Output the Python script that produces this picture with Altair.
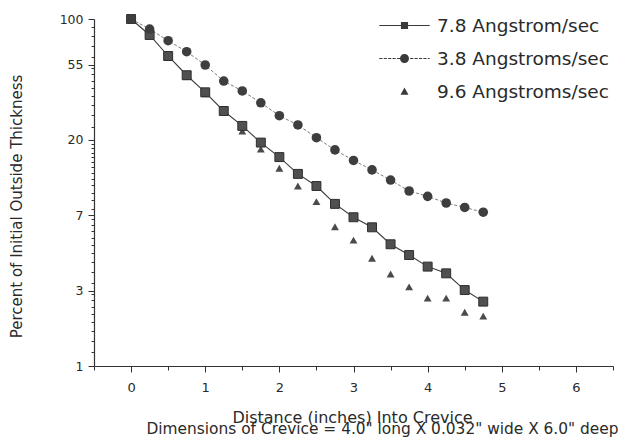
import math
import altair as alt
import pandas as pd

# ---------------- data ----------------
distance = [0, 0.25, 0.5, 0.75, 1.0, 1.25, 1.5, 1.75, 2.0, 2.25,
            2.5, 2.75, 3.0, 3.25, 3.5, 3.75, 4.0, 4.25, 4.5, 4.75]
pct_78 = [100, 80.9, 61.2, 47.4, 37.8, 29.5, 24.2, 19.4, 16.0, 12.8,
          10.9, 8.6, 7.2, 6.3, 5.03, 4.36, 3.74, 3.42, 2.74, 2.35]
pct_38 = [100, 87.5, 75.0, 64.8, 54.3, 43.9, 38.5, 32.9, 27.7, 24.5,
          20.7, 17.6, 15.3, 13.5, 11.8, 10.2, 9.5, 8.7, 8.2, 7.7]
pct_96 = [100, 80.0, 60.5, 46.5, 37.0, 29.0, 22.6, 17.8, 13.8, 10.9,
          8.85, 6.35, 5.32, 4.18, 3.39, 2.86, 2.46, 2.46, 2.04, 1.94]
series_names = ["7.8 Angstrom/sec", "3.8 Angstroms/sec", "9.6 Angstroms/sec"]

# axis ticks (natural-log spaced majors labelled 1, 3, 7, 20, 55, 100)
y_major = [1, math.e, math.e ** 2, math.e ** 3, math.e ** 4, 100]
y_minor = [1.2, 1.4, 1.6, 1.8, 2.0, 2.2, 2.4, 2.6,
           3, 3.5, 4, 4.5, 5, 5.5, 6, 6.5, 7,
           8, 9, 10, 11, 12, 13, 14, 15, 16, 17, 18, 19,
           24, 28, 32, 36, 40, 44, 48, 52,
           60, 70, 80, 90]
x_ticks = [-0.5, 0, 0.5, 1, 1.5, 2, 2.5, 3, 3.5, 4, 4.5, 5, 5.5, 6, 6.5]

x_title = "Distance (inches) Into Crevice"
y_title = "Percent of Initial Outside Thickness"
sub_title = 'Dimensions of Crevice = 4.0" long X 0.032" wide X 6.0" deep'

# ---------------- table ----------------
rows = []
for name, vals in [(series_names[2], pct_96), (series_names[0], pct_78), (series_names[1], pct_38)]:
    for d, v in zip(distance, vals):
        rows.append({"distance": d, "pct": v, "series": name})
df = pd.DataFrame(rows)

FONT = "DejaVu Sans"
INK = "#3a3a3a"
TXT = "#2a2a2a"

y_is_major = "(abs(log(datum.value) - round(log(datum.value))) < 1e-6 || datum.value == 100)"
x_is_major = "(datum.value % 1 == 0)"

x_enc = alt.X(
    "distance:Q",
    scale=alt.Scale(domain=[-0.5, 6.5], nice=False, zero=False),
    axis=alt.Axis(
        grid=False,
        values=x_ticks,
        labelExpr=f"{x_is_major} ? format(datum.value, 'd') : ''",
        tickSize={"condition": {"test": x_is_major, "value": 6}, "value": 4},
        labelPadding=9,
        labelOverlap=False,
        labelFontSize=13,
        title=x_title,
        titleX=258,
        titleY=56,
        titleAlign="center",
        titleBaseline="alphabetic",
        titleFontSize=16,
        titleFontWeight="normal",
    ),
)
y_enc = alt.Y(
    "pct:Q",
    scale=alt.Scale(type="log", domain=[1, 100], nice=False),
    axis=alt.Axis(
        grid=False,
        values=y_major + y_minor,
        labelExpr=f"{y_is_major} ? format(datum.value, '.0f') : ''",
        tickSize={"condition": {"test": y_is_major, "value": 6}, "value": 3},
        labelPadding=5,
        labelOverlap=False,
        labelFontSize=12.5,
        title=y_title,
        titleX=-73,
        titleY=187,
        titleAngle=-90,
        titleAlign="center",
        titleBaseline="alphabetic",
        titleFontSize=15,
        titleFontWeight="normal",
    ),
)

base = alt.Chart(df).encode(x=x_enc, y=y_enc)

line_78 = base.transform_filter(alt.datum.series == series_names[0]).mark_line(
    color="#3c3c3c", strokeWidth=1.1)
line_38 = base.transform_filter(alt.datum.series == series_names[1]).mark_line(
    color="#6a6a6a", strokeWidth=0.9, strokeDash=[3, 2])

pts_96 = base.transform_filter(alt.datum.series == series_names[2]).mark_point(
    shape="triangle-up", filled=True, size=62, color="#4a4a4a", opacity=1)
pts_78 = base.transform_filter(alt.datum.series == series_names[0]).mark_point(
    shape="square", filled=True, size=80, fill="#505050", stroke="#2e2e2e",
    strokeWidth=1, opacity=1)
pts_38 = base.transform_filter(alt.datum.series == series_names[1]).mark_point(
    shape="circle", filled=True, size=92, color="#3e3e3e", opacity=1)


# legend symbols: a thin filled bar (the line) with the marker in the middle
# (unit = sqrt(symbolSize)/2 px)
def bar(x0, x1, h):
    return f"M{x0:.2f},-{h}H{x1:.2f}V{h}H{x0:.2f}Z"


def dashed(x0, x1, dash, gap, h):
    out, x = [], x0
    while x < x1:
        out.append(bar(x, min(x + dash, x1), h))
        x += dash + gap
    return "".join(out)


r_sq, r_c, r_t = 0.34, 0.43, 0.38
sym_sq = bar(-2.4, 2.4, 0.05) + f"M-{r_sq},-{r_sq}H{r_sq}V{r_sq}H-{r_sq}Z"
sym_ci = dashed(-2.4, 2.4, 0.3, 0.12, 0.04) + (
    f"M-{r_c},0A{r_c},{r_c},0,1,1,{r_c},0A{r_c},{r_c},0,1,1,-{r_c},0Z")
sym_tr = f"M0,-{r_t}L{r_t},0.3L-{r_t},0.3Z"

legend_layer = base.mark_point(
    filled=True, opacity=0, color=INK
).encode(
    shape=alt.Shape(
        "series:N",
        scale=alt.Scale(domain=series_names, range=[sym_sq, sym_ci, sym_tr]),
        legend=alt.Legend(
            title=None,
            orient="none",
            legendX=300,
            legendY=-4,
            padding=0,
            labelFont=FONT,
            labelFontSize=18.5,
            labelColor=TXT,
            labelLimit=400,
            labelOffset=22,
            rowPadding=13,
            symbolSize=441,
            symbolOpacity=1,
            symbolFillColor=INK,
            symbolStrokeWidth=0,
        ),
    )
)

chart = (
    alt.layer(line_78, line_38, pts_96, pts_78, pts_38, legend_layer)
    .properties(
        width=519,
        height=347,
        background="white",
        autosize=alt.AutoSizeParams(type="none"),
        padding={"left": 86, "top": 11, "right": 5, "bottom": 72},
        title=alt.Title(
            sub_title,
            orient="bottom",
            anchor="middle",
            frame="group",
            dx=29,
            offset=9,
            baseline="alphabetic",
            font=FONT,
            fontSize=15.4,
            fontWeight="normal",
            color=TXT,
        ),
    )
    .configure_view(stroke=None)
    .configure_axis(
        grid=False,
        domainColor="#333333",
        tickColor="#333333",
        labelColor=TXT,
        titleColor=TXT,
        labelFont=FONT,
        titleFont=FONT,
        titleFontWeight="normal",
        domainWidth=1.2,
        tickWidth=1,
    )
)

chart.save("out.html", embed_options={"renderer": "svg", "actions": False})
